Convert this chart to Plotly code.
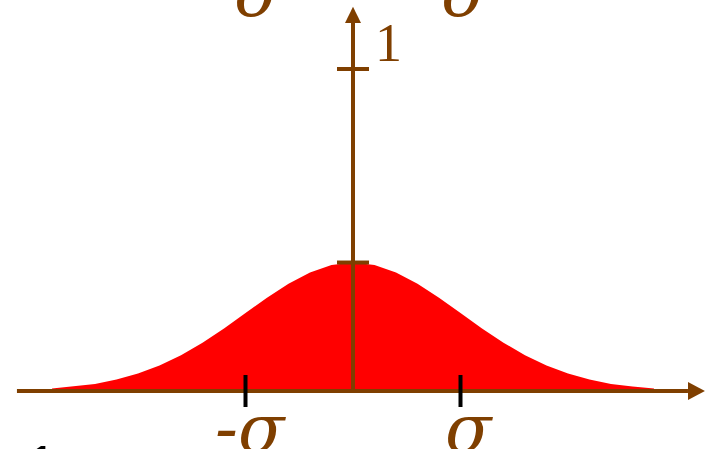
import plotly.graph_objects as go

# Curve (x in units of sigma, height in units of the "1" tick)
x_vals = [-2.8, -2.6, -2.4, -2.2, -2.0, -1.8, -1.6, -1.4, -1.2, -1.0, -0.8, -0.6, -0.4, -0.2, 0.0,
          0.2, 0.4, 0.6, 0.8, 1.0, 1.2, 1.4, 1.6, 1.8, 2.0, 2.2, 2.4, 2.6, 2.8]
y_vals = [0.008, 0.014, 0.022, 0.036, 0.054, 0.079, 0.111, 0.150, 0.194, 0.242, 0.290, 0.333, 0.368, 0.391, 0.399,
          0.391, 0.368, 0.333, 0.290, 0.242, 0.194, 0.150, 0.111, 0.079, 0.054, 0.036, 0.022, 0.014, 0.008]
tick_positions = [-1, 1]
tick_labels = ["-σ", "σ"]
unit_value = 1
unit_label = "1"
peak_value = 0.399

BROWN = "#7F3F00"
RED = "#FF0000"

X_RANGE = [-3.2837, 3.2930]
Y_RANGE = [-0.1801, 1.2143]
PX_X = 107.5   # pixels per x unit
PX_Y = 322.0   # pixels per y unit

fig = go.Figure()

# filled curve
fig.add_trace(go.Scatter(x=x_vals, y=y_vals, mode="lines", fill="tozeroy",
                         fillcolor=RED, line=dict(width=0, color=RED), hoverinfo="skip"))

# x axis with arrow
x_start, x_end, x_tip = -3.126, 3.116, 3.274
fig.add_trace(go.Scatter(x=[x_start, x_end], y=[0, 0], mode="lines",
                         line=dict(color=BROWN, width=4), hoverinfo="skip"))
fig.add_trace(go.Scatter(x=[x_end, x_tip, x_end, x_end], y=[9 / PX_Y, 0, -9 / PX_Y, 9 / PX_Y],
                         mode="lines", fill="toself", fillcolor=BROWN,
                         line=dict(color=BROWN, width=0), hoverinfo="skip"))

# y axis with arrow
y_end, y_tip = 1.143, 1.193
fig.add_trace(go.Scatter(x=[0, 0], y=[0, y_end], mode="lines",
                         line=dict(color=BROWN, width=4), hoverinfo="skip"))
fig.add_trace(go.Scatter(x=[-8 / PX_X, 0, 8 / PX_X, -8 / PX_X], y=[y_end, y_tip, y_end, y_end],
                         mode="lines", fill="toself", fillcolor=BROWN,
                         line=dict(color=BROWN, width=0), hoverinfo="skip"))

# ticks on y axis (unit and peak)
hw = 16 / PX_X
for yv in [unit_value, peak_value]:
    fig.add_trace(go.Scatter(x=[-hw, hw], y=[yv, yv], mode="lines",
                             line=dict(color=BROWN, width=4), hoverinfo="skip"))

# sigma ticks
th = 16 / PX_Y
for xv in tick_positions:
    fig.add_trace(go.Scatter(x=[xv, xv], y=[th, -th], mode="lines",
                             line=dict(color="black", width=4), hoverinfo="skip"))

annotations = []
font_sig = dict(family="DejaVu Serif", size=68, color=BROWN, style="italic")
for xv, lab in zip(tick_positions, tick_labels):
    text = "<i>" + lab + "</i>"
    shift = 5 if xv < 0 else 8
    # bottom label
    annotations.append(dict(x=xv, y=0, xref="x", yref="y", text=text, showarrow=False,
                            xanchor="center", yanchor="top", xshift=shift, yshift=4, font=font_sig))
    # top label (cut off)
    annotations.append(dict(x=xv, y=1, xref="x", yref="paper", text=text, showarrow=False,
                            xanchor="center", yanchor="bottom", xshift=shift - 4, yshift=-34, font=font_sig))

annotations.append(dict(x=0, y=unit_value, xref="x", yref="y", text=unit_label, showarrow=False,
                        xanchor="left", yanchor="middle", xshift=20, yshift=26,
                        font=dict(family="Liberation Serif", size=54, color=BROWN)))

annotations.append(dict(x=-2.89, y=0, xref="x", yref="y", text="1", showarrow=False,
                        xanchor="center", yanchor="top", xshift=0, yshift=-41,
                        font=dict(family="Liberation Sans", size=54, color="black")))

fig.update_layout(
    width=707, height=449,
    margin=dict(l=0, r=0, t=0, b=0),
    paper_bgcolor="white", plot_bgcolor="white",
    showlegend=False,
    xaxis=dict(range=X_RANGE, visible=False, fixedrange=True),
    yaxis=dict(range=Y_RANGE, visible=False, fixedrange=True),
    annotations=annotations,
)

fig.write_html("out.html", config={"displayModeBar": False},
               post_script="document.body.style.margin='0';document.body.style.overflow='hidden';")
